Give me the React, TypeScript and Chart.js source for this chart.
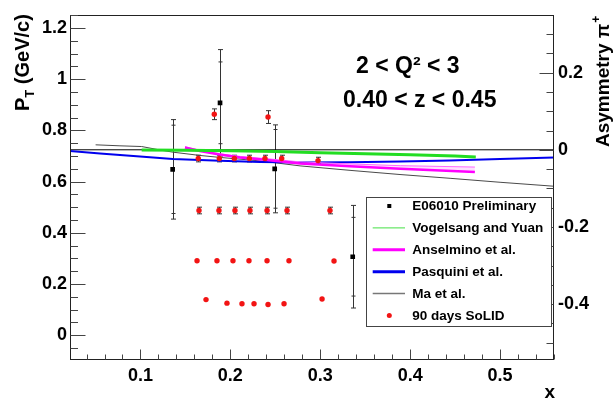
import React, { useEffect, useRef } from 'react';
import { Chart, registerables } from 'chart.js';
Chart.register(...registerables);

const FONT = '"Liberation Sans", Arial, Helvetica, sans-serif';

// axes
const X_MIN = 0.0216;
const X_MAX = 0.56;
const PT_MIN = -0.097;
const PT_MAX = 1.2515;
const ASYM_MIN = -0.545;
const ASYM_MAX = 0.35;
const X_TICKS = [0.1, 0.2, 0.3, 0.4, 0.5];
const X_TICK_LABELS = ['0.1', '0.2', '0.3', '0.4', '0.5'];
const PT_TICKS = [0, 0.2, 0.4, 0.6, 0.8, 1, 1.2];
const PT_TICK_LABELS = ['0', '0.2', '0.4', '0.6', '0.8', '1', '1.2'];
const ASYM_TICKS = [-0.4, -0.2, 0, 0.2];
const ASYM_TICK_LABELS = ['-0.4', '-0.2', '0', '0.2'];

// texts
const TITLE_Q2 = '2 < Q\u00B2 < 3';
const TITLE_Z = '0.40 < z < 0.45';
const LEGEND_LABELS = ['E06010 Preliminary', 'Vogelsang and Yuan', 'Anselmino et al.', 'Pasquini et al.', 'Ma et al.', '90 days SoLID'];

// E06010 preliminary asymmetry (right axis)
const E06010_X = [0.1358, 0.1885, 0.2493, 0.3361];
const E06010_A = [-0.0507, 0.1218, -0.0494, -0.2772];
const E06010_STAT = [0.1145, 0.106, 0.102, 0.102];
const E06010_TOT = [0.129, 0.138, 0.114, 0.133];

// 90 days SoLID projection (P_T, left axis)
const SOLID_X = [
  0.1643, 0.1877, 0.2044, 0.2211, 0.2385, 0.2571, 0.2975,
  0.1651, 0.1873, 0.2051, 0.2218, 0.2408, 0.263, 0.3108,
  0.1629, 0.1851, 0.2029, 0.2207, 0.2408, 0.2652, 0.3153,
  0.1729, 0.1962, 0.2129, 0.2263, 0.2419, 0.2597, 0.302,
  0.1821, 0.2419,
];
const SOLID_PT = [
  0.69, 0.69, 0.69, 0.69, 0.69, 0.69, 0.682,
  0.487, 0.487, 0.487, 0.487, 0.487, 0.487, 0.487,
  0.291, 0.291, 0.291, 0.291, 0.291, 0.291, 0.29,
  0.139, 0.125, 0.123, 0.123, 0.12, 0.123, 0.141,
  0.863, 0.852,
];
const SOLID_ERR = [
  0.013, 0.013, 0.013, 0.013, 0.013, 0.013, 0.013,
  0.013, 0.013, 0.013, 0.013, 0.013, 0.013, 0.013,
  0, 0, 0, 0, 0, 0, 0,
  0, 0, 0, 0, 0, 0, 0,
  0.021, 0.025,
];

// model curves (right axis)
const VY_X = [0.1013, 0.15, 0.2, 0.25, 0.3, 0.35, 0.4, 0.45, 0.473];
const VY_A = [-0.0005, -0.0015, -0.0025, -0.0045, -0.0075, -0.0105, -0.013, -0.016, -0.0185];

const ANS_X = [0.1495, 0.166, 0.188, 0.211, 0.241, 0.2775, 0.333, 0.389, 0.472];
const ANS_LOW = [0.0059, -0.0031, -0.0121, -0.0198, -0.0263, -0.0353, -0.0425, -0.0489, -0.0577];
const ANS_UP = [0.0077, -0.0013, -0.0103, -0.0172, -0.0232, -0.0314, -0.0366, -0.0412, -0.0448];

const PAS_X = [0.0216, 0.055, 0.0995, 0.136, 0.1885, 0.233, 0.2775, 0.333, 0.389, 0.444, 0.5, 0.56];
const PAS_A = [-0.0031, -0.0095, -0.0172, -0.0237, -0.0283, -0.0314, -0.0327, -0.0322, -0.0306, -0.0275, -0.0239, -0.0198];

const MA_X = [0.0501, 0.0772, 0.1013, 0.1217, 0.1362, 0.1662, 0.1885, 0.233, 0.2775, 0.3331, 0.3887, 0.4444, 0.5, 0.56];
const MA_A = [0.0129, 0.0103, 0.0085, -0.0005, -0.0062, -0.0147, -0.0198, -0.0288, -0.0417, -0.0533, -0.0641, -0.0739, -0.0842, -0.0945];

const ZERO_X = [X_MIN, X_MAX];
const ZERO_A = [0, 0];

const pts = (xs: number[], ys: number[]) => xs.map((x, i) => ({ x, y: ys[i] }));

const COLORS = {
  red: '#f21414',
  green: '#22dd22',
  magenta: '#ff00ff',
  blue: '#0000ee',
  gray: '#4a4a4a',
};

const errorBarPlugin = {
  id: 'errorBars',
  beforeDatasetsDraw(chart: any) {
    const { ctx, scales } = chart;
    const sx = scales.x, sl = scales.y, sr = scales.yR;
    ctx.save();
    ctx.strokeStyle = '#333';
    ctx.lineWidth = 1;
    const cap = (x: number, y: number, hw: number) => {
      ctx.beginPath();
      ctx.moveTo(x - hw, y);
      ctx.lineTo(x + hw, y);
      ctx.stroke();
    };
    E06010_X.forEach((xv, i) => {
      const x = Math.round(sx.getPixelForValue(xv)) + 0.5;
      const y0 = sr.getPixelForValue(E06010_A[i] + E06010_TOT[i]);
      const y1 = sr.getPixelForValue(E06010_A[i] - E06010_TOT[i]);
      ctx.beginPath();
      ctx.moveTo(x, y0);
      ctx.lineTo(x, y1);
      ctx.stroke();
      cap(x, y0, 2.5);
      cap(x, y1, 2.5);
      cap(x, sr.getPixelForValue(E06010_A[i] + E06010_STAT[i]), 2);
      cap(x, sr.getPixelForValue(E06010_A[i] - E06010_STAT[i]), 2);
    });
    SOLID_X.forEach((xv, i) => {
      if (!SOLID_ERR[i]) return;
      const x = Math.round(sx.getPixelForValue(xv)) + 0.5;
      const y0 = sl.getPixelForValue(SOLID_PT[i] + SOLID_ERR[i]);
      const y1 = sl.getPixelForValue(SOLID_PT[i] - SOLID_ERR[i]);
      ctx.beginPath();
      ctx.moveTo(x, y0);
      ctx.lineTo(x, y1);
      ctx.stroke();
      cap(x, y0, 2.5);
      cap(x, y1, 2.5);
    });
    ctx.restore();
  },
};

const framePlugin = {
  id: 'frame',
  afterDraw(chart: any) {
    const { ctx, chartArea: ca, scales } = chart;
    const sx = scales.x, sl = scales.y, sr = scales.yR;
    ctx.save();
    ctx.strokeStyle = '#222';
    ctx.lineWidth = 1;
    const L = Math.round(ca.left) + 0.5, R = Math.round(ca.right) - 0.5;
    const T = Math.round(ca.top) + 0.5, B = Math.round(ca.bottom) - 0.5;
    ctx.strokeRect(L, T, R - L, B - T);
    ctx.strokeStyle = '#444';
    const line = (x0: number, y0: number, x1: number, y1: number) => {
      ctx.beginPath();
      ctx.moveTo(x0, y0);
      ctx.lineTo(x1, y1);
      ctx.stroke();
    };
    // x ticks
    for (let k = 2; k <= 28; k++) {
      const v = k * 0.02;
      if (v < X_MIN || v > X_MAX) continue;
      const x = Math.round(sx.getPixelForValue(v)) + 0.5;
      const major = k % 5 === 0;
      line(x, B, x, B - (major ? 10 : 5));
    }
    // left ticks
    for (let k = -1; k <= 25; k++) {
      const v = k * 0.05;
      if (v < PT_MIN || v > PT_MAX) continue;
      const y = Math.round(sl.getPixelForValue(v)) + 0.5;
      const major = k % 4 === 0;
      line(L, y, L + (major ? 15 : 7.5), y);
    }
    // right ticks
    for (let k = -10; k <= 7; k++) {
      const v = k * 0.05;
      if (v < ASYM_MIN || v > ASYM_MAX) continue;
      const y = Math.round(sr.getPixelForValue(v)) + 0.5;
      const major = k % 4 === 0;
      line(R, y, R - (major ? 14 : 7), y);
    }
    ctx.restore();
  },
};

const textPlugin = {
  id: 'texts',
  afterDraw(chart: any) {
    const { ctx } = chart;
    ctx.save();
    ctx.fillStyle = '#000';
    ctx.textBaseline = 'alphabetic';
    // left axis title
    ctx.save();
    ctx.translate(29, 111);
    ctx.rotate(-Math.PI / 2);
    ctx.font = `bold 20px ${FONT}`;
    ctx.fillText('P', 0, 0);
    let w = ctx.measureText('P').width;
    ctx.font = `bold 13px ${FONT}`;
    ctx.fillText('T', w, 5);
    w += ctx.measureText('T').width;
    ctx.font = `bold 20px ${FONT}`;
    ctx.fillText(' (GeV/c)', w, 0);
    ctx.restore();
    // right axis title
    ctx.save();
    ctx.translate(609, 147);
    ctx.rotate(-Math.PI / 2);
    ctx.font = `bold 19px ${FONT}`;
    ctx.fillText('Asymmetry \u03C0', 0, 0);
    w = ctx.measureText('Asymmetry \u03C0').width;
    ctx.font = `bold 12px ${FONT}`;
    ctx.fillText('+', w + 1, -9);
    ctx.restore();
    // x title
    ctx.font = `bold 19px ${FONT}`;
    ctx.textAlign = 'right';
    ctx.fillText('x', 555, 398);
    ctx.textAlign = 'left';
    // plot texts
    ctx.font = `bold 23px ${FONT}`;
    ctx.fillText(TITLE_Q2, 356, 72.5);
    ctx.fillText(TITLE_Z, 343, 106.5);
    // legend
    const bx = 366.5, by = 197.5, bw = 185, bh = 129;
    ctx.fillStyle = '#fff';
    ctx.fillRect(bx, by, bw, bh);
    ctx.strokeStyle = '#444';
    ctx.lineWidth = 1;
    ctx.strokeRect(bx, by, bw, bh);
    const rows = [206, 227.9, 249.8, 271.7, 293.6, 315.5];
    const sx = 389.3, lx0 = 372.7, lx1 = 405;
    ctx.font = `bold 13.5px ${FONT}`;
    ctx.textBaseline = 'middle';
    LEGEND_LABELS.forEach((lab, i) => {
      const y = rows[i];
      ctx.fillStyle = '#000';
      ctx.fillText(lab, 412.3, y + 0.5);
      const ln = (c: string, lw: number) => {
        ctx.strokeStyle = c;
        ctx.lineWidth = lw;
        ctx.beginPath();
        ctx.moveTo(lx0, y);
        ctx.lineTo(lx1, y);
        ctx.stroke();
      };
      if (i === 0) {
        ctx.fillStyle = '#000';
        ctx.fillRect(sx - 2, y - 2, 4, 4);
      } else if (i === 1) ln('#44e044', 1);
      else if (i === 2) ln(COLORS.magenta, 3);
      else if (i === 3) ln(COLORS.blue, 3);
      else if (i === 4) ln('#777', 1.5);
      else {
        ctx.fillStyle = COLORS.red;
        ctx.beginPath();
        ctx.arc(sx, y, 2.5, 0, Math.PI * 2);
        ctx.fill();
      }
    });
    ctx.restore();
  },
};

const tickFont = { family: FONT, size: 18, weight: 'bold' as const };

export default function App() {
  const ref = useRef<HTMLCanvasElement>(null);
  useEffect(() => {
    document.body.style.margin = '0';
    const lineDs = (label: string, xs: number[], ys: number[], color: string, width: number, extra: any = {}) => ({
      label,
      data: pts(xs, ys),
      yAxisID: 'yR',
      borderColor: color,
      backgroundColor: color,
      borderWidth: width,
      pointRadius: 0,
      tension: 0,
      fill: false,
      ...extra,
    });
    const chart = new Chart(ref.current as HTMLCanvasElement, {
      type: 'line',
      data: {
        datasets: [
          {
            label: LEGEND_LABELS[0],
            data: pts(E06010_X, E06010_A),
            yAxisID: 'yR',
            showLine: false,
            pointStyle: 'rect',
            pointRadius: 3.3,
            pointBorderWidth: 0,
            pointBackgroundColor: '#000',
            borderColor: '#000',
          },
          {
            label: LEGEND_LABELS[5],
            data: pts(SOLID_X, SOLID_PT),
            yAxisID: 'y',
            showLine: false,
            pointStyle: 'circle',
            pointRadius: 2.7,
            pointBorderWidth: 0,
            pointBackgroundColor: COLORS.red,
            borderColor: COLORS.red,
          },
          lineDs(LEGEND_LABELS[1], VY_X, VY_A, COLORS.green, 3),
          lineDs(LEGEND_LABELS[2], ANS_X, ANS_LOW, COLORS.magenta, 2.5),
          lineDs(LEGEND_LABELS[2] + ' (band)', ANS_X, ANS_UP, '#ff66ff', 1, { fill: '-1', backgroundColor: 'rgba(255,0,255,0.12)' }),
          lineDs(LEGEND_LABELS[3], PAS_X, PAS_A, COLORS.blue, 2),
          lineDs(LEGEND_LABELS[4], MA_X, MA_A, COLORS.gray, 1),
          lineDs('zero', ZERO_X, ZERO_A, '#000', 1),
        ] as any,
      },
      options: {
        responsive: false,
        animation: false,
        events: [],
        layout: { padding: { top: 12.5, left: 0, right: 0, bottom: 0 } },
        plugins: { legend: { display: false }, tooltip: { enabled: false } },
        scales: {
          x: {
            type: 'linear',
            position: 'bottom',
            min: X_MIN,
            max: X_MAX,
            grid: { display: false, drawTicks: false },
            border: { display: false },
            afterBuildTicks: (s: any) => { s.ticks = X_TICKS.map((v) => ({ value: v })); },
            afterFit: (s: any) => { s.height = 39; },
            ticks: {
              font: tickFont,
              color: '#000',
              padding: 5,
              maxRotation: 0,
              autoSkip: false,
              callback: (v: any) => X_TICK_LABELS[X_TICKS.indexOf(v)],
            },
          },
          y: {
            type: 'linear',
            position: 'left',
            min: PT_MIN,
            max: PT_MAX,
            grid: { display: false, drawTicks: false },
            border: { display: false },
            afterBuildTicks: (s: any) => { s.ticks = PT_TICKS.map((v) => ({ value: v })); },
            afterFit: (s: any) => { s.width = 70; },
            ticks: {
              font: tickFont,
              color: '#000',
              padding: 3,
              autoSkip: false,
              callback: (v: any) => PT_TICK_LABELS[PT_TICKS.indexOf(v)],
            },
          },
          yR: {
            type: 'linear',
            position: 'right',
            min: ASYM_MIN,
            max: ASYM_MAX,
            grid: { display: false, drawTicks: false },
            border: { display: false },
            afterBuildTicks: (s: any) => { s.ticks = ASYM_TICKS.map((v) => ({ value: v })); },
            afterFit: (s: any) => { s.width = 59; },
            ticks: {
              font: tickFont,
              color: '#000',
              padding: 4,
              autoSkip: false,
              callback: (v: any) => ASYM_TICK_LABELS[ASYM_TICKS.indexOf(v)],
            },
          },
        },
      } as any,
      plugins: [errorBarPlugin, framePlugin, textPlugin],
    });
    return () => chart.destroy();
  }, []);
  return (
    <div style={{ position: 'relative', width: 613, height: 399, background: '#fff' }}>
      <canvas ref={ref} width={613} height={399} style={{ display: 'block', width: 613, height: 399 }} />
    </div>
  );
}
